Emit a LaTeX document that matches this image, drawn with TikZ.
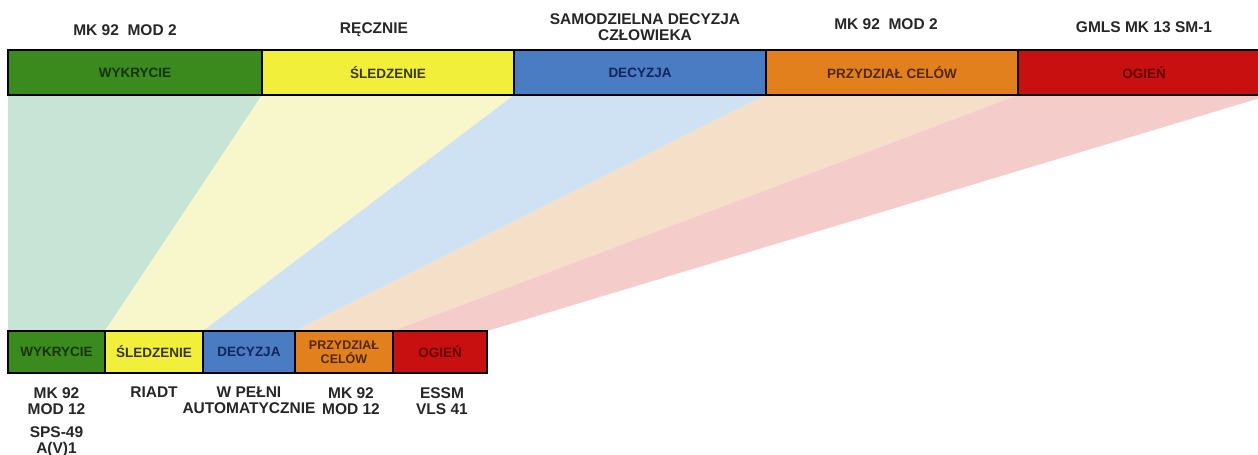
\documentclass[tikz,border=0pt]{standalone}
\usepackage{fontspec}
\setmainfont{Liberation Sans}
\usetikzlibrary{positioning,backgrounds}

\definecolor{wykgreen}{RGB}{58,138,30}
\definecolor{sledyellow}{RGB}{242,239,58}
\definecolor{decblue}{RGB}{74,124,196}
\definecolor{przorange}{RGB}{226,128,30}
\definecolor{ogred}{RGB}{200,16,16}
\definecolor{wykpale}{RGB}{200,228,214}
\definecolor{sledpale}{RGB}{248,247,204}
\definecolor{decpale}{RGB}{207,226,244}
\definecolor{przpale}{RGB}{245,223,200}
\definecolor{ogpale}{RGB}{244,204,202}
\definecolor{wyktext}{RGB}{25,50,15}
\definecolor{sledtext}{RGB}{55,55,20}
\definecolor{dectext}{RGB}{20,35,90}
\definecolor{przttext}{RGB}{80,40,5}
\definecolor{ogtext}{RGB}{95,5,5}

\begin{document}
\begin{tikzpicture}[
  x=1pt, y=-1pt,
  barseg/.style={draw=black, line width=1.6pt, inner sep=0pt, outer sep=0pt,
                 minimum height=45pt, minimum width=252pt,
                 font=\fontsize{13.5}{15}\selectfont\bfseries},
  cellseg/.style={draw=black, line width=1.4pt, inner sep=0pt, outer sep=0pt,
                  minimum height=42pt, align=center,
                  font=\fontsize{13.5}{15}\selectfont\bfseries},
  toplab/.style={font=\fontsize{15.5}{16}\selectfont\bfseries, align=center,
                 text=black!85, inner sep=0pt},
  botlab/.style={font=\fontsize{15.5}{16}\selectfont\bfseries, align=center,
                 text=black!85, inner sep=0pt},
]
\useasboundingbox (0,0) rectangle (1258,455);
\clip (0,0) rectangle (1258,455);

% Top bar
\node[barseg, fill=wykgreen, text=wyktext, minimum width=254pt, anchor=north west]
  (tWyk) at (8,50) {WYKRYCIE};
\node[barseg, fill=sledyellow, text=sledtext, right=0pt of tWyk] (tSled) {ŚLEDZENIE};
\node[barseg, fill=decblue, text=dectext, right=0pt of tSled] (tDec) {DECYZJA};
\node[barseg, fill=przorange, text=przttext, right=0pt of tDec] (tPrz) {PRZYDZIAŁ CELÓW};
\node[barseg, fill=ogred, text=ogtext, right=0pt of tPrz] (tOg) {OGIEŃ};

% Top labels
\node[toplab] (lMkTop) at (125,30) {MK 92\ \ MOD 2};
\node[toplab] (lRecz) at (374,30) {RĘCZNIE};
\node[toplab] (lSamo) at (645,27) {SAMODZIELNA DECYZJA\\CZŁOWIEKA};
\node[toplab] (lMkTop2) at (886,24) {MK 92\ \ MOD 2};
\node[toplab] (lGmls) at (1144,27) {GMLS MK 13 SM-1};

% Bottom bar
\node[cellseg, fill=wykgreen, text=wyktext, minimum width=97pt, anchor=north west]
  (bWyk) at (8,331) {WYKRYCIE};
\node[cellseg, fill=sledyellow, text=sledtext, minimum width=98pt, right=0pt of bWyk]
  (bSled) {ŚLEDZENIE};
\node[cellseg, fill=decblue, text=dectext, minimum width=92pt, right=0pt of bSled]
  (bDec) {DECYZJA};
\node[cellseg, fill=przorange, text=przttext, minimum width=98pt, right=0pt of bDec,
      font=\fontsize{12.5}{14}\selectfont\bfseries]
  (bPrz) {PRZYDZIAŁ\\CELÓW};
\node[cellseg, fill=ogred, text=ogtext, minimum width=94pt, right=0pt of bPrz]
  (bOg) {OGIEŃ};

% Bottom labels
\node[botlab, below=14pt of bWyk] (lMk) {MK 92\\MOD 12\\[7pt]SPS-49\\A(V)1};
\node[botlab, below=14pt of bSled] (lRiadt) {RIADT};
\node[botlab, below=14pt of bDec] (lAuto) {W PEŁNI\\AUTOMATYCZNIE};
\node[botlab, below=14pt of bPrz, xshift=7pt] (lMk2) {MK 92\\MOD 12};
\node[botlab, below=14pt of bOg, xshift=2pt] (lEssm) {ESSM\\VLS 41};

% Fans
\begin{scope}[on background layer]
  \clip (0,0) rectangle (1258,455);
  \fill[wykpale] (tWyk.south west) -- (tWyk.south east) -- (bWyk.north east) -- (bWyk.north west) -- cycle;
  \fill[sledpale] (tSled.south west) -- (tSled.south east) -- (bSled.north east) -- (bSled.north west) -- cycle;
  \fill[decpale] (tDec.south west) -- (tDec.south east) -- (bDec.north east) -- (bDec.north west) -- cycle;
  \fill[przpale] (tPrz.south west) -- (tPrz.south east) -- (bPrz.north east) -- (bPrz.north west) -- cycle;
  \fill[ogpale] (tOg.south west) -- (tOg.south east) -- (bOg.north east) -- (bOg.north west) -- cycle;
\end{scope}
\end{tikzpicture}
\end{document}
